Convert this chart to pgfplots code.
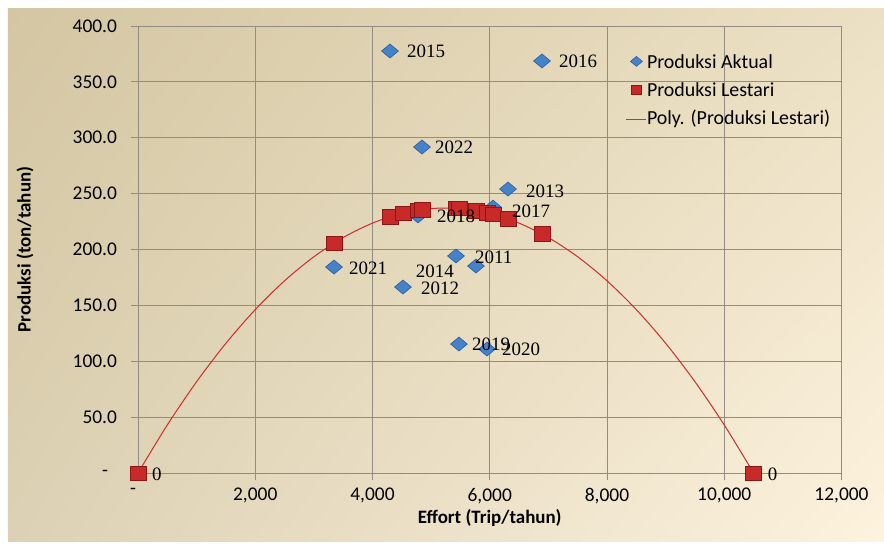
\documentclass[border=0pt]{standalone}
\usepackage{pgfplots}
\usepackage{pgfplotstable}
\pgfplotsset{compat=1.18}
\usetikzlibrary{shadings}
\usepackage{fontspec}
\setmainfont{Liberation Serif}
\newfontfamily\carlito{Carlito}
\definecolor{bgUL}{RGB}{212,198,162}
\definecolor{bgUR}{RGB}{236,224,196}
\definecolor{bgLL}{RGB}{220,209,180}
\definecolor{bgLR}{RGB}{253,243,222}
\definecolor{gridc}{RGB}{145,141,133}
\definecolor{aktfill}{RGB}{70,130,200}
\definecolor{aktdraw}{RGB}{40,90,160}
\definecolor{lesfill}{RGB}{200,42,42}
\definecolor{lesdraw}{RGB}{140,22,22}
\definecolor{trendc}{RGB}{205,45,45}

\pgfplotstableread{
x y
4298 377.6
6891 368.7
4844 291.7
6311 254.1
6055 237.9
4776 230.0
5424 194.2
5765 185.2
4520 166.4
3343 184.3
5475 115.4
5953 110.9
}\aktual

\pgfplotstableread{
x y
0 0
3343 205.7
4298 229.2
4520 232.4
4776 235.1
4844 235.6
5424 236.7
5475 236.6
5765 234.7
5953 232.7
6055 231.4
6311 227.3
6891 213.9
10500 0
}\lestari

\pgfplotstableread{
x y
0 0
500 43.0
1000 81.7
1500 116.1
2000 146.2
2500 172.0
3000 193.5
3500 210.7
4000 223.6
4500 232.2
5000 236.5
5250 237.0
5500 236.5
6000 232.2
6500 223.6
7000 210.7
7500 193.5
8000 172.0
8500 146.2
9000 116.1
9500 81.7
10000 43.0
10500 0
}\trend

% label: x, y, text, anchor, dx, dy
\newcommand\lab[6]{\addplot[only marks, mark=none, forget plot, nodes near coords, point meta=explicit symbolic,
  every node near coord/.append style={anchor=#4, xshift=#5bp, yshift=#6bp, inner sep=0pt, text=black, font=\fontsize{19}{19}\selectfont}]
  coordinates {(#1,#2) [#3]};}

\begin{document}
\begin{tikzpicture}
\fill[white] (-138bp,-76bp) rectangle (746bp,473bp);
\shade[upper left=bgUL, upper right=bgUR, lower left=bgLL, lower right=bgLR] (-130bp,-68bp) rectangle (746bp,464bp);
\begin{axis}[
  at={(0bp,0bp)}, anchor=south west,
  scale only axis, width=703.5bp, height=447bp,
  xmin=0, xmax=12000, ymin=0, ymax=400,
  clip=false, scaled x ticks=false, scaled y ticks=false,
  xtick={0,2000,4000,6000,8000,10000,12000},
  xticklabels={{-\kern10bp},{2,000},{4,000},{6,000},{8,000},{10,000},{12,000}},
  ytick={0,50,100,150,200,250,300,350,400},
  yticklabels={{-\kern9bp},50.0,100.0,150.0,200.0,250.0,300.0,350.0,400.0},
  grid=major,
  grid style={color=gridc, line width=0.8bp},
  axis line style={color=gridc, line width=0.8bp},
  tick style={color=gridc, line width=0.8bp},
  major tick length=7bp, tick align=outside,
  xtick pos=bottom, ytick pos=left,
  ticklabel style={font=\carlito\fontsize{19.5}{19.5}\selectfont, text=black},
  xticklabel style={yshift=-4.5bp},
  yticklabel style={xshift=-10.5bp},
  xlabel={Effort (Trip/tahun)},
  ylabel={Produksi (ton/tahun)},
  label style={font=\carlito\bfseries\fontsize{19}{19}\selectfont, text=black},
  xlabel style={at={(axis description cs:0.5,0)}, anchor=center, yshift=-45bp},
  ylabel style={at={(axis description cs:-0.1606,0.5)}, anchor=center},
  legend style={draw=none, fill=none, at={(axis description cs:0.689,0.938)}, anchor=north west,
    font=\carlito\fontsize{20}{20}\selectfont, column sep=0bp, row sep=11bp,
    nodes={inner sep=0pt, text height=13bp, text depth=4bp}},
  legend cell align=left,
]
\addplot[only marks, mark=diamond*, mark size=7bp, mark options={xscale=1.6, fill=aktfill, draw=aktdraw, line width=0.6bp},
  legend image code/.code={\path[draw=none,fill=none] (-10bp,0bp) -- (10bp,0bp);\draw[fill=aktfill, draw=aktdraw, line width=0.5bp] (0bp,8bp) -- (6bp,3bp) -- (0bp,-2bp) -- (-6bp,3bp) -- cycle;}]
  table[x=x,y=y]{\aktual};
\addlegendentry{Produksi Aktual}
\addplot[only marks, mark=square*, mark size=8bp, mark options={yscale=0.9, fill=lesfill, draw=lesdraw, line width=0.6bp},
  legend image code/.code={\path[draw=none,fill=none] (-10bp,0bp) -- (10bp,0bp);\draw[fill=lesfill, draw=lesdraw, line width=0.5bp] (-5bp,-1.5bp) rectangle (5bp,7.5bp);}]
  table[x=x,y=y]{\lestari};
\addlegendentry{Produksi Lestari}
\addplot[draw=trendc, line width=1bp, smooth, mark=none,
  legend image code/.code={\path[draw=none,fill=none] (-10bp,-3bp) -- (10bp,-3bp);\draw[draw=trendc, line width=1.1bp] (-10bp,1bp) -- (10bp,1bp);}]
  table[x=x,y=y]{\trend};
\addlegendentry{Poly. (Produksi Lestari)}
\lab{4298}{377.6}{2015}{west}{17}{0}
\lab{6891}{368.7}{2016}{west}{17}{0}
\lab{4844}{291.7}{2022}{west}{13}{0}
\lab{6311}{254.1}{2013}{west}{18}{-2}
\lab{6055}{237.9}{2017}{west}{19}{-4}
\lab{4776}{230.0}{2018}{west}{19}{0}
\lab{5424}{194.2}{2011}{west}{19}{-1}
\lab{5765}{185.2}{2014}{east}{-22}{-5}
\lab{4520}{166.4}{2012}{west}{18}{-1}
\lab{3343}{184.3}{2021}{west}{15}{-1}
\lab{5475}{115.4}{2019}{west}{13}{0}
\lab{5953}{110.9}{2020}{west}{15}{0}
\lab{0}{0}{0}{west}{14}{-1}
\lab{10500}{0}{0}{west}{14}{-1}
\end{axis}
\pgfresetboundingbox
\path (-138bp,-76bp) rectangle (746bp,473bp);
\end{tikzpicture}
\end{document}
